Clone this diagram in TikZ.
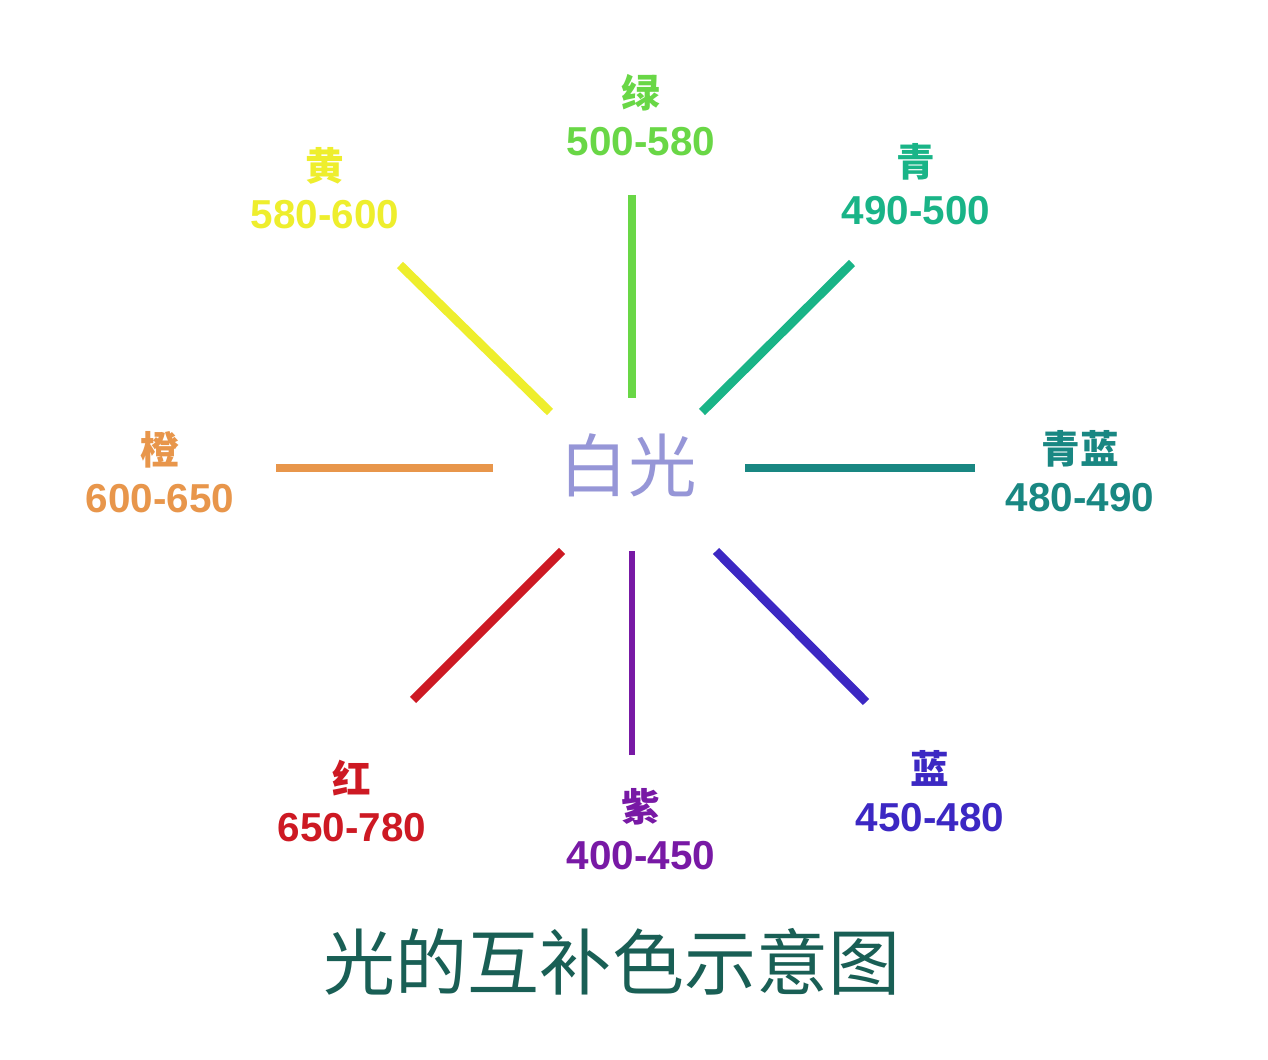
\documentclass[tikz,border=0pt]{standalone}
\usepackage{fontspec}
\setmainfont{Liberation Sans}
\newfontfamily\cjk{Noto Sans CJK SC}
\usetikzlibrary{positioning}
\definecolor{cgreen}{RGB}{105,215,70}
\definecolor{cyellow}{RGB}{238,238,45}
\definecolor{ccyan}{RGB}{25,180,135}
\definecolor{ccyanblue}{RGB}{25,135,130}
\definecolor{corange}{RGB}{232,150,75}
\definecolor{cred}{RGB}{205,25,35}
\definecolor{cpurple}{RGB}{120,25,165}
\definecolor{cblue}{RGB}{60,40,195}
\definecolor{cwhite}{RGB}{150,150,215}
\definecolor{ctitle}{RGB}{25,95,85}
\tikzset{ray/.style={draw, line width=5pt}}
\tikzset{lbl/.style={align=center, inner sep=0pt, font=\fontsize{23pt}{27pt}\selectfont\bfseries}}
\newcommand{\cn}[1]{{\cjk\fontsize{22pt}{27pt}\selectfont\bfseries #1}}
\begin{document}
\begin{tikzpicture}[x=0.02cm,y=-0.02cm]
\useasboundingbox[fill=white] (0,0) rectangle (1268,1060);

\node[font=\cjk\fontsize{39pt}{40pt}\selectfont, text=cwhite, inner sep=0pt] (white) at (628,465) {白光};

%labels
\node[lbl, text=cgreen] (green) at (641,115) {\cn{绿}\\500-580};
\node[lbl, text=cyellow] (yellow) at (325,188) {\cn{黄}\\580-600};
\node[lbl, text=ccyan] (cyan) at (916,184) {\cn{青}\\490-500};
\node[lbl, text=corange] (orange) at (160,472) {\cn{橙}\\600-650};
\node[lbl, text=ccyanblue] (cyanblue) at (1080,471) {\cn{青蓝}\\480-490};
\node[lbl, text=cred] (red) at (352,801) {\cn{红}\\650-780};
\node[lbl, text=cpurple] (purple) at (641,829) {\cn{紫}\\400-450};
\node[lbl, text=cblue] (blue) at (930,791) {\cn{蓝}\\450-480};

\node[font=\cjk\fontsize{41pt}{44pt}\selectfont, text=ctitle, inner sep=0pt] (title) at (612,962) {光的互补色示意图};

%ray ends
\coordinate (green1) at (632,195); \coordinate (green2) at (632,398);
\coordinate (yellow1) at (400,265); \coordinate (yellow2) at (550,412);
\coordinate (cyan1) at (852,263); \coordinate (cyan2) at (702,412);
\coordinate (cyanblue1) at (975,468); \coordinate (cyanblue2) at (745,468);
\coordinate (orange1) at (276,468); \coordinate (orange2) at (493,468);
\coordinate (red1) at (413,700); \coordinate (red2) at (562,551);
\coordinate (purple1) at (632,755); \coordinate (purple2) at (632,551);
\coordinate (blue1) at (866,702); \coordinate (blue2) at (716,551);

%rays
\path[ray, cgreen, line width=4.5pt] (green1) -- (green2);
\path[ray, cyellow] (yellow1) -- (yellow2);
\path[ray, ccyan] (cyan1) -- (cyan2);
\path[ray, ccyanblue, line width=4.5pt] (cyanblue1) -- (cyanblue2);
\path[ray, corange, line width=4.5pt] (orange1) -- (orange2);
\path[ray, cred] (red1) -- (red2);
\path[ray, cpurple, line width=3.5pt] (purple1) -- (purple2);
\path[ray, cblue] (blue1) -- (blue2);

\end{tikzpicture}
\end{document}
